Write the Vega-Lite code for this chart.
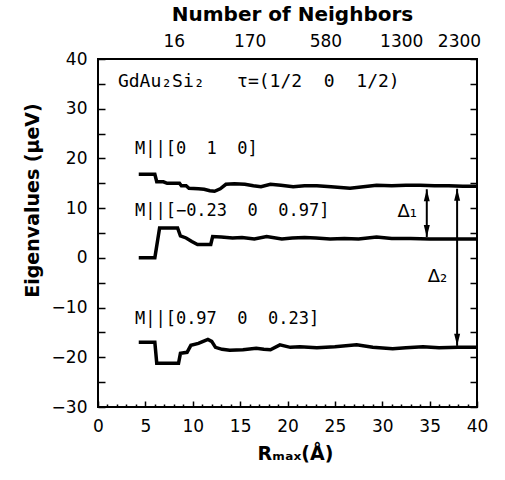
{
  "$schema": "https://vega.github.io/schema/vega-lite/v6.json",
  "width": 379,
  "height": 348,
  "autosize": "none",
  "padding": {"left": 98, "top": 59, "right": 28, "bottom": 73},
  "background": "white",
  "config": {
    "view": {"stroke": "black", "strokeWidth": 2},
    "font": "DejaVu Sans",
    "axis": {
      "domain": false,
      "grid": false,
      "labelFont": "DejaVu Sans",
      "labelFontSize": 17,
      "labelColor": "black",
      "labelFlush": false,
      "labelOverlap": false,
      "labelBound": false,
      "tickColor": "black",
      "tickWidth": 1.5,
      "titleFont": "DejaVu Sans",
      "titleFontSize": 19,
      "titleFontWeight": "bold",
      "titleColor": "black"
    }
  },
  "datasets": {
    "curves": [
      {"series": "a", "r": 4.3, "e": 16.8}, {"series": "a", "r": 6.0, "e": 16.8},
      {"series": "a", "r": 6.2, "e": 15.3}, {"series": "a", "r": 6.9, "e": 15.3},
      {"series": "a", "r": 7.3, "e": 15.0}, {"series": "a", "r": 8.6, "e": 15.0},
      {"series": "a", "r": 8.8, "e": 14.5}, {"series": "a", "r": 9.3, "e": 14.5},
      {"series": "a", "r": 9.6, "e": 14.0}, {"series": "a", "r": 10.6, "e": 13.9},
      {"series": "a", "r": 11.2, "e": 13.8}, {"series": "a", "r": 11.8, "e": 13.5},
      {"series": "a", "r": 12.3, "e": 13.4}, {"series": "a", "r": 12.9, "e": 13.9},
      {"series": "a", "r": 13.5, "e": 14.8}, {"series": "a", "r": 14.4, "e": 14.9},
      {"series": "a", "r": 15.5, "e": 14.8}, {"series": "a", "r": 16.4, "e": 14.5},
      {"series": "a", "r": 17.2, "e": 14.3}, {"series": "a", "r": 18.2, "e": 14.8},
      {"series": "a", "r": 19.3, "e": 14.6}, {"series": "a", "r": 20.6, "e": 14.3},
      {"series": "a", "r": 21.8, "e": 14.5}, {"series": "a", "r": 23.1, "e": 14.5},
      {"series": "a", "r": 24.6, "e": 14.3}, {"series": "a", "r": 26.6, "e": 14.0},
      {"series": "a", "r": 28.0, "e": 14.3}, {"series": "a", "r": 29.4, "e": 14.6},
      {"series": "a", "r": 31.0, "e": 14.5}, {"series": "a", "r": 32.5, "e": 14.6},
      {"series": "a", "r": 34.0, "e": 14.6}, {"series": "a", "r": 35.5, "e": 14.5},
      {"series": "a", "r": 37.0, "e": 14.5}, {"series": "a", "r": 38.5, "e": 14.4},
      {"series": "a", "r": 40.0, "e": 14.4},

      {"series": "b", "r": 4.3, "e": 0.0}, {"series": "b", "r": 6.0, "e": 0.0},
      {"series": "b", "r": 6.5, "e": 6.0}, {"series": "b", "r": 8.4, "e": 6.0},
      {"series": "b", "r": 8.7, "e": 4.4}, {"series": "b", "r": 9.3, "e": 4.0},
      {"series": "b", "r": 9.9, "e": 3.3}, {"series": "b", "r": 10.5, "e": 2.7},
      {"series": "b", "r": 11.9, "e": 2.7}, {"series": "b", "r": 12.1, "e": 4.3},
      {"series": "b", "r": 13.0, "e": 4.2}, {"series": "b", "r": 14.2, "e": 4.0},
      {"series": "b", "r": 15.2, "e": 4.1}, {"series": "b", "r": 16.5, "e": 3.8},
      {"series": "b", "r": 17.8, "e": 4.3}, {"series": "b", "r": 19.4, "e": 3.8},
      {"series": "b", "r": 20.5, "e": 4.0}, {"series": "b", "r": 21.8, "e": 4.1},
      {"series": "b", "r": 23.0, "e": 4.0}, {"series": "b", "r": 24.5, "e": 3.8},
      {"series": "b", "r": 26.0, "e": 3.9}, {"series": "b", "r": 27.5, "e": 3.8},
      {"series": "b", "r": 29.4, "e": 4.2}, {"series": "b", "r": 31.0, "e": 3.9},
      {"series": "b", "r": 33.0, "e": 3.9}, {"series": "b", "r": 35.0, "e": 3.8},
      {"series": "b", "r": 37.0, "e": 3.8}, {"series": "b", "r": 40.0, "e": 3.8},

      {"series": "c", "r": 4.3, "e": -17.0}, {"series": "c", "r": 6.0, "e": -17.0},
      {"series": "c", "r": 6.2, "e": -21.2}, {"series": "c", "r": 8.5, "e": -21.2},
      {"series": "c", "r": 8.7, "e": -19.2}, {"series": "c", "r": 9.4, "e": -19.0},
      {"series": "c", "r": 9.8, "e": -17.6}, {"series": "c", "r": 10.6, "e": -17.2},
      {"series": "c", "r": 11.1, "e": -16.8}, {"series": "c", "r": 11.6, "e": -16.4},
      {"series": "c", "r": 12.0, "e": -16.8}, {"series": "c", "r": 12.4, "e": -18.0},
      {"series": "c", "r": 13.1, "e": -18.4}, {"series": "c", "r": 13.9, "e": -18.6},
      {"series": "c", "r": 15.3, "e": -18.5}, {"series": "c", "r": 16.7, "e": -18.2},
      {"series": "c", "r": 17.5, "e": -18.4}, {"series": "c", "r": 18.2, "e": -18.5},
      {"series": "c", "r": 19.2, "e": -17.5}, {"series": "c", "r": 20.3, "e": -18.0},
      {"series": "c", "r": 21.3, "e": -17.9}, {"series": "c", "r": 23.1, "e": -18.1},
      {"series": "c", "r": 25.0, "e": -17.9}, {"series": "c", "r": 27.3, "e": -17.5},
      {"series": "c", "r": 29.0, "e": -18.0}, {"series": "c", "r": 31.1, "e": -18.3},
      {"series": "c", "r": 32.5, "e": -18.1}, {"series": "c", "r": 34.3, "e": -17.9},
      {"series": "c", "r": 36.0, "e": -18.1}, {"series": "c", "r": 38.0, "e": -18.0},
      {"series": "c", "r": 40.0, "e": -18.0}
    ],
    "heading": [
      {"r": 2.1, "e": 35.3, "txt": "GdAu₂Si₂\u00a0\u00a0\u00a0τ=(1/2\u00a0\u00a00\u00a0\u00a01/2)"}
    ],
    "labels": [
      {"r": 3.9, "e": 21.9, "txt": "M||[0\u00a0\u00a01\u00a0\u00a00]"},
      {"r": 3.9, "e": 9.5, "txt": "M||[−0.23\u00a0\u00a00\u00a0\u00a00.97]"},
      {"r": 3.9, "e": -12.3, "txt": "M||[0.97\u00a0\u00a00\u00a0\u00a00.23]"}
    ],
    "deltas": [
      {"r": 31.6, "e": 9.3, "txt": "Δ₁"},
      {"r": 34.8, "e": -3.8, "txt": "Δ₂"}
    ],
    "gaps": [
      {"r": 34.7, "lo": 4.2, "hi": 13.8},
      {"r": 37.9, "lo": -17.7, "hi": 13.9}
    ]
  },
  "layer": [
    {
      "data": {"name": "curves"},
      "mark": {"type": "line", "color": "black", "strokeWidth": 3.5, "strokeJoin": "miter"},
      "encoding": {
        "x": {
          "field": "r", "type": "quantitative",
          "scale": {"domain": [0, 40], "nice": false, "zero": false},
          "axis": {
            "orient": "bottom",
            "values": [0, 5, 10, 15, 20, 25, 30, 35, 40],
            "tickSize": -6,
            "labelPadding": 25,
            "labelBaseline": "middle",
            "title": "Rₘₐₓ(Å)",
            "titleX": 197,
            "titleY": 46,
            "titleBaseline": "middle"
          }
        },
        "y": {
          "field": "e", "type": "quantitative",
          "scale": {"domain": [-30, 40], "nice": false, "zero": false},
          "axis": {
            "orient": "left",
            "values": [-30, -25, -20, -15, -10, -5, 0, 5, 10, 15, 20, 25, 30, 35, 40],
            "labelExpr": "datum.value % 10 === 0 ? datum.label : ''",
            "tickSize": -7,
            "labelPadding": 18,
            "title": "Eigenvalues (μeV)",
            "titleX": -66,
            "titleY": 141,
            "titleBaseline": "middle"
          }
        },
        "detail": {"field": "series"}
      }
    },
    {
      "data": {"name": "labels"},
      "mark": {"type": "text", "align": "left", "baseline": "middle", "font": "DejaVu Sans Mono", "fontSize": 17, "color": "black"},
      "encoding": {
        "x": {
          "field": "r", "type": "quantitative",
          "scale": {"domain": [0, 40], "nice": false, "zero": false},
          "axis": {
            "orient": "top",
            "values": [8, 16, 24, 32, 38.1],
            "labelExpr": "datum.value == 8 ? '16' : datum.value == 16 ? '170' : datum.value == 24 ? '580' : datum.value == 32 ? '1300' : '2300'",
            "ticks": false,
            "labelPadding": 18,
            "labelBaseline": "middle",
            "title": "Number of Neighbors",
            "titleFontSize": 20,
            "titleX": 194,
            "titleY": -45,
            "titleBaseline": "middle"
          }
        },
        "y": {
          "field": "e", "type": "quantitative",
          "scale": {"domain": [-30, 40], "nice": false, "zero": false},
          "axis": {
            "orient": "right",
            "values": [-30, -25, -20, -15, -10, -5, 0, 5, 10, 15, 20, 25, 30, 35, 40],
            "tickSize": -7,
            "labels": false,
            "title": null
          }
        },
        "text": {"field": "txt"}
      }
    },
    {
      "data": {"name": "heading"},
      "mark": {"type": "text", "align": "left", "baseline": "middle", "font": "DejaVu Sans Mono", "fontSize": 18, "color": "black"},
      "encoding": {
        "x": {"field": "r", "type": "quantitative", "scale": {"domain": [0, 40], "nice": false, "zero": false}, "axis": null},
        "y": {"field": "e", "type": "quantitative", "scale": {"domain": [-30, 40], "nice": false, "zero": false}, "axis": null},
        "text": {"field": "txt"}
      }
    },
    {
      "data": {"name": "deltas"},
      "mark": {"type": "text", "align": "left", "baseline": "middle", "font": "DejaVu Sans", "fontSize": 18, "color": "black"},
      "encoding": {
        "x": {"field": "r", "type": "quantitative", "scale": {"domain": [0, 40], "nice": false, "zero": false}, "axis": null},
        "y": {"field": "e", "type": "quantitative", "scale": {"domain": [-30, 40], "nice": false, "zero": false}, "axis": null},
        "text": {"field": "txt"}
      }
    },
    {
      "data": {"name": "gaps"},
      "mark": {"type": "rule", "color": "black", "strokeWidth": 2},
      "encoding": {
        "x": {
          "field": "r", "type": "quantitative",
          "scale": {"domain": [0, 40], "nice": false, "zero": false},
          "axis": {
            "orient": "bottom",
            "values": [1, 2, 3, 4, 6, 7, 8, 9, 11, 12, 13, 14, 16, 17, 18, 19, 21, 22, 23, 24, 26, 27, 28, 29, 31, 32, 33, 34, 36, 37, 38, 39],
            "tickSize": -3,
            "labels": false,
            "title": null
          }
        },
        "y": {
          "field": "lo", "type": "quantitative",
          "scale": {"domain": [-30, 40], "nice": false, "zero": false},
          "axis": null
        },
        "y2": {"field": "hi"}
      }
    },
    {
      "data": {"name": "gaps"},
      "mark": {"type": "point", "shape": "M0,0L-0.5,2L0.5,2Z", "filled": true, "color": "black", "opacity": 1, "size": 144},
      "encoding": {
        "x": {"field": "r", "type": "quantitative", "scale": {"domain": [0, 40], "nice": false, "zero": false}, "axis": null},
        "y": {"field": "hi", "type": "quantitative", "scale": {"domain": [-30, 40], "nice": false, "zero": false}, "axis": null}
      }
    },
    {
      "data": {"name": "gaps"},
      "mark": {"type": "point", "shape": "M0,0L-0.5,-2L0.5,-2Z", "filled": true, "color": "black", "opacity": 1, "size": 144},
      "encoding": {
        "x": {"field": "r", "type": "quantitative", "scale": {"domain": [0, 40], "nice": false, "zero": false}, "axis": null},
        "y": {"field": "lo", "type": "quantitative", "scale": {"domain": [-30, 40], "nice": false, "zero": false}, "axis": null}
      }
    }
  ],
  "resolve": {"axis": {"x": "independent", "y": "independent"}}
}
